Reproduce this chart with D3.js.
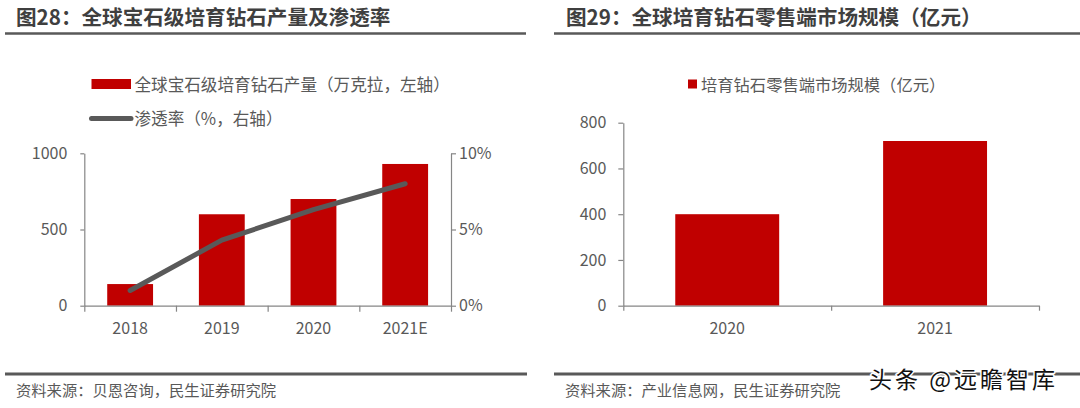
<!DOCTYPE html>
<html>
<head>
<meta charset="utf-8">
<script src="https://cdn.jsdelivr.net/npm/d3@7/dist/d3.min.js"></script>
<style>
  html, body { margin: 0; padding: 0; background: #fff; }
  svg { display: block; }
  text { font-family: "Noto Sans CJK SC", "Open Sans", sans-serif; }
</style>
</head>
<body>
<svg id="chart" width="1080" height="408"></svg>
<script>
// ---------- data ----------
const leftTitle = "图28：全球宝石级培育钻石产量及渗透率";
const leftCategories = ["2018", "2019", "2020", "2021E"];
const labGrownOutput = [142, 600, 700, 930];          // 万克拉, left axis
const penetrationRate = [1.0, 4.3, 6.3, 8.0];          // %, right axis
const leftYTicks = [0, 500, 1000];
const leftY2Ticks = [0, 5, 10];
const leftLegend = ["全球宝石级培育钻石产量（万克拉，左轴）", "渗透率（%，右轴）"];
const leftSource = "资料来源：贝恩咨询，民生证券研究院";

const rightTitle = "图29：全球培育钻石零售端市场规模（亿元）";
const rightCategories = ["2020", "2021"];
const retailMarket = [400, 720];                        // 亿元
const rightYTicks = [0, 200, 400, 600, 800];
const rightLegend = ["培育钻石零售端市场规模（亿元）"];
const rightSource = "资料来源：产业信息网，民生证券研究院";
const watermark = "头条 @远瞻智库";

// ---------- styles ----------
const RED = "#C00000";
const LINE = "#595959";
const AXIS = "#868686";
const LABEL = "#595959";
const TITLE = "#3f3f3f";

const svg = d3.select("#chart");
svg.append("rect").attr("width", 1080).attr("height", 408).attr("fill", "#fff");

function styleAxis(g, fontSize) {
  g.select(".domain").attr("stroke", AXIS).attr("stroke-width", 1.2);
  g.selectAll(".tick line").attr("stroke", AXIS).attr("stroke-width", 1.2);
  g.selectAll(".tick text").attr("fill", LABEL)
    .attr("font-family", '"Open Sans", "Noto Sans CJK SC", sans-serif')
    .attr("font-size", fontSize);
}

// ---------- headers / footers ----------
function header(x, text, lineX0, lineX1) {
  svg.append("text").attr("x", x).attr("y", 24.5)
    .attr("font-size", 20.6).attr("font-weight", "bold").attr("fill", TITLE)
    .text(text);
  svg.append("line").attr("x1", lineX0).attr("x2", lineX1).attr("y1", 33.5).attr("y2", 33.5)
    .attr("stroke", "#595959").attr("stroke-width", 2.4);
}
function footer(x, text, lineX0, lineX1) {
  svg.append("line").attr("x1", lineX0).attr("x2", lineX1).attr("y1", 374).attr("y2", 374)
    .attr("stroke", "#595959").attr("stroke-width", 3);
  svg.append("text").attr("x", x).attr("y", 396)
    .attr("font-size", 15.3).attr("fill", LABEL).text(text);
}
header(16, leftTitle, 5, 526);
header(566, rightTitle, 554, 1080);
footer(16, leftSource, 5, 527);
footer(565, rightSource, 554, 1080);

// ---------- left chart ----------
{
  const x0 = 84.3, x1 = 451, yTop = 153.3, yBot = 305.7;
  const x = d3.scaleBand().domain(leftCategories).range([x0, x1]).paddingInner(0.5).paddingOuter(0.25);
  const y = d3.scaleLinear().domain([0, 1000]).range([yBot, yTop]);
  const y2 = d3.scaleLinear().domain([0, 10]).range([yBot, yTop]);
  const xi = d3.scaleLinear().domain([0, leftCategories.length]).range([x0, x1]);

  const g = svg.append("g");
  g.selectAll("rect.bar").data(leftCategories).join("rect").attr("class", "bar")
    .attr("x", d => x(d)).attr("width", x.bandwidth())
    .attr("y", (d, i) => y(labGrownOutput[i]))
    .attr("height", (d, i) => yBot - y(labGrownOutput[i]))
    .attr("fill", RED);

  // axes
  const ya = g.append("g").attr("transform", `translate(${x0},0)`)
    .call(d3.axisLeft(y).tickValues(leftYTicks).tickSize(4).tickSizeOuter(0).tickPadding(13)
      .tickFormat(d3.format("d")));
  styleAxis(ya, 16);
  const y2a = g.append("g").attr("transform", `translate(${x1},0)`)
    .call(d3.axisRight(y2).tickValues(leftY2Ticks).tickSize(5).tickSizeOuter(0).tickPadding(3)
      .tickFormat(d => d + "%"));
  styleAxis(y2a, 16);
  const xt = g.append("g").attr("transform", `translate(0,${yBot})`)
    .call(d3.axisBottom(xi).tickValues(d3.range(leftCategories.length + 1)).tickSize(6).tickSizeOuter(0).tickFormat(""));
  styleAxis(xt, 16);
  const xl = g.append("g").attr("transform", `translate(0,${yBot})`)
    .call(d3.axisBottom(x).tickSize(0).tickPadding(17));
  xl.select(".domain").remove();
  styleAxis(xl, 16);

  // line
  const line = d3.line().x((d, i) => x(leftCategories[i]) + x.bandwidth() / 2).y(d => y2(d));
  g.append("path").datum(penetrationRate).attr("d", line)
    .attr("fill", "none").attr("stroke", LINE).attr("stroke-width", 5)
    .attr("stroke-linecap", "round").attr("stroke-linejoin", "round");

  // legend
  const lg = svg.append("g");
  lg.append("rect").attr("x", 91.5).attr("y", 79).attr("width", 39.5).attr("height", 10).attr("fill", RED);
  lg.append("text").attr("x", 134.5).attr("y", 84).attr("dominant-baseline", "central")
    .attr("font-size", 16.6).attr("fill", LABEL).text(leftLegend[0]);
  lg.append("line").attr("x1", 91.5).attr("x2", 131).attr("y1", 118.5).attr("y2", 118.5)
    .attr("stroke", LINE).attr("stroke-width", 5).attr("stroke-linecap", "round");
  lg.append("text").attr("x", 134.5).attr("y", 118).attr("dominant-baseline", "central")
    .attr("font-size", 16.6).attr("fill", LABEL).text(leftLegend[1]);
}

// ---------- right chart ----------
{
  const x0 = 623.3, x1 = 1039, yTop = 122.7, yBot = 305.7;
  const x = d3.scaleBand().domain(rightCategories).range([x0, x1]).paddingInner(0.5).paddingOuter(0.25);
  const y = d3.scaleLinear().domain([0, 800]).range([yBot, yTop]);
  const xi = d3.scaleLinear().domain([0, rightCategories.length]).range([x0, x1]);

  const g = svg.append("g");
  g.selectAll("rect.bar").data(rightCategories).join("rect").attr("class", "bar")
    .attr("x", d => x(d)).attr("width", x.bandwidth())
    .attr("y", (d, i) => y(retailMarket[i]))
    .attr("height", (d, i) => yBot - y(retailMarket[i]))
    .attr("fill", RED);

  const ya = g.append("g").attr("transform", `translate(${x0},0)`)
    .call(d3.axisLeft(y).tickValues(rightYTicks).tickSize(5).tickSizeOuter(0).tickPadding(12)
      .tickFormat(d3.format("d")));
  styleAxis(ya, 16);
  const xt = g.append("g").attr("transform", `translate(0,${yBot})`)
    .call(d3.axisBottom(xi).tickValues(d3.range(rightCategories.length + 1)).tickSize(5).tickSizeOuter(0).tickFormat(""));
  styleAxis(xt, 16);
  const xl = g.append("g").attr("transform", `translate(0,${yBot})`)
    .call(d3.axisBottom(x).tickSize(0).tickPadding(17));
  xl.select(".domain").remove();
  styleAxis(xl, 16);

  const lg = svg.append("g");
  lg.append("rect").attr("x", 688).attr("y", 79.5).attr("width", 9).attr("height", 9).attr("fill", RED);
  lg.append("text").attr("x", 701).attr("y", 84).attr("dominant-baseline", "central")
    .attr("font-size", 16.3).attr("fill", LABEL).text(rightLegend[0]);
}

// ---------- watermark ----------
svg.append("text").attr("x", 869).attr("y", 388)
  .attr("font-size", 23).attr("letter-spacing", 3)
  .attr("fill", "#111").attr("stroke", "#fff").attr("stroke-width", 3)
  .attr("paint-order", "stroke").attr("stroke-linejoin", "round")
  .text(watermark);
</script>
</body>
</html>
